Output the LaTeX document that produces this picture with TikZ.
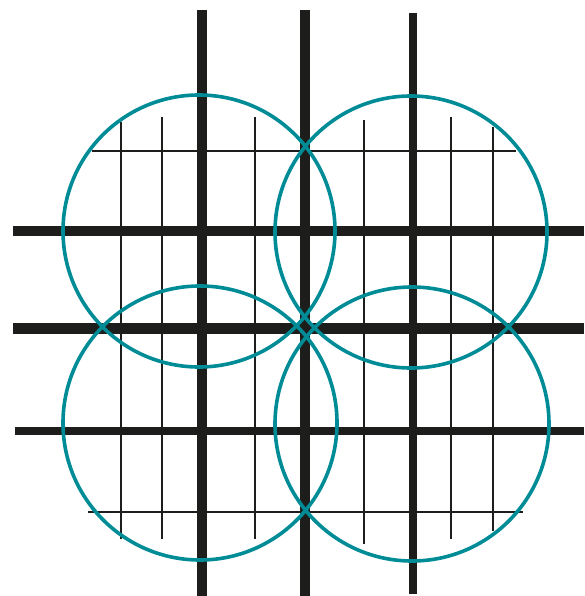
\documentclass[tikz,border=0pt]{standalone}
\begin{document}
\begin{tikzpicture}[x=1pt,y=-1pt,
  thickline/.style={line width=10pt,draw=inkblack},
  thinline/.style={line width=2pt,draw=inkblack},
  ring/.style={line width=3.6pt,draw=tealring}]
\definecolor{inkblack}{RGB}{29,29,27}
\definecolor{tealring}{RGB}{0,140,150}
\useasboundingbox (0,0) rectangle (584,596);
% thin grid lines
\draw[thinline] (92,151.5) -- (516,151.5);
\draw[thinline] (88,512) -- (523,512);
\draw[thinline] (121,122) -- (121,539);
\draw[thinline] (162,117) -- (162,539);
\draw[thinline] (255,117) -- (255,539);
\draw[thinline] (364,120) -- (364,544);
\draw[thinline] (451,117) -- (451,539);
\draw[thinline] (493,127) -- (493,531);
% thick lines
\draw[thickline] (202,10) -- (202,596);
\draw[thickline] (305,10) -- (305,596);
\draw[thickline,line width=8.5pt] (413,13) -- (413,594);
\draw[thickline] (13,231) -- (584,231);
\draw[thickline,line width=11pt] (13,328) -- (584,328);
\draw[thickline,line width=7.5pt] (15,431) -- (584,431);
% circles
\draw[ring] (199,231) circle[radius=136];
\draw[ring] (411,232) circle[radius=136];
\draw[ring] (200,423) circle[radius=137];
\draw[ring] (412,424) circle[radius=137];
\end{tikzpicture}
\end{document}
